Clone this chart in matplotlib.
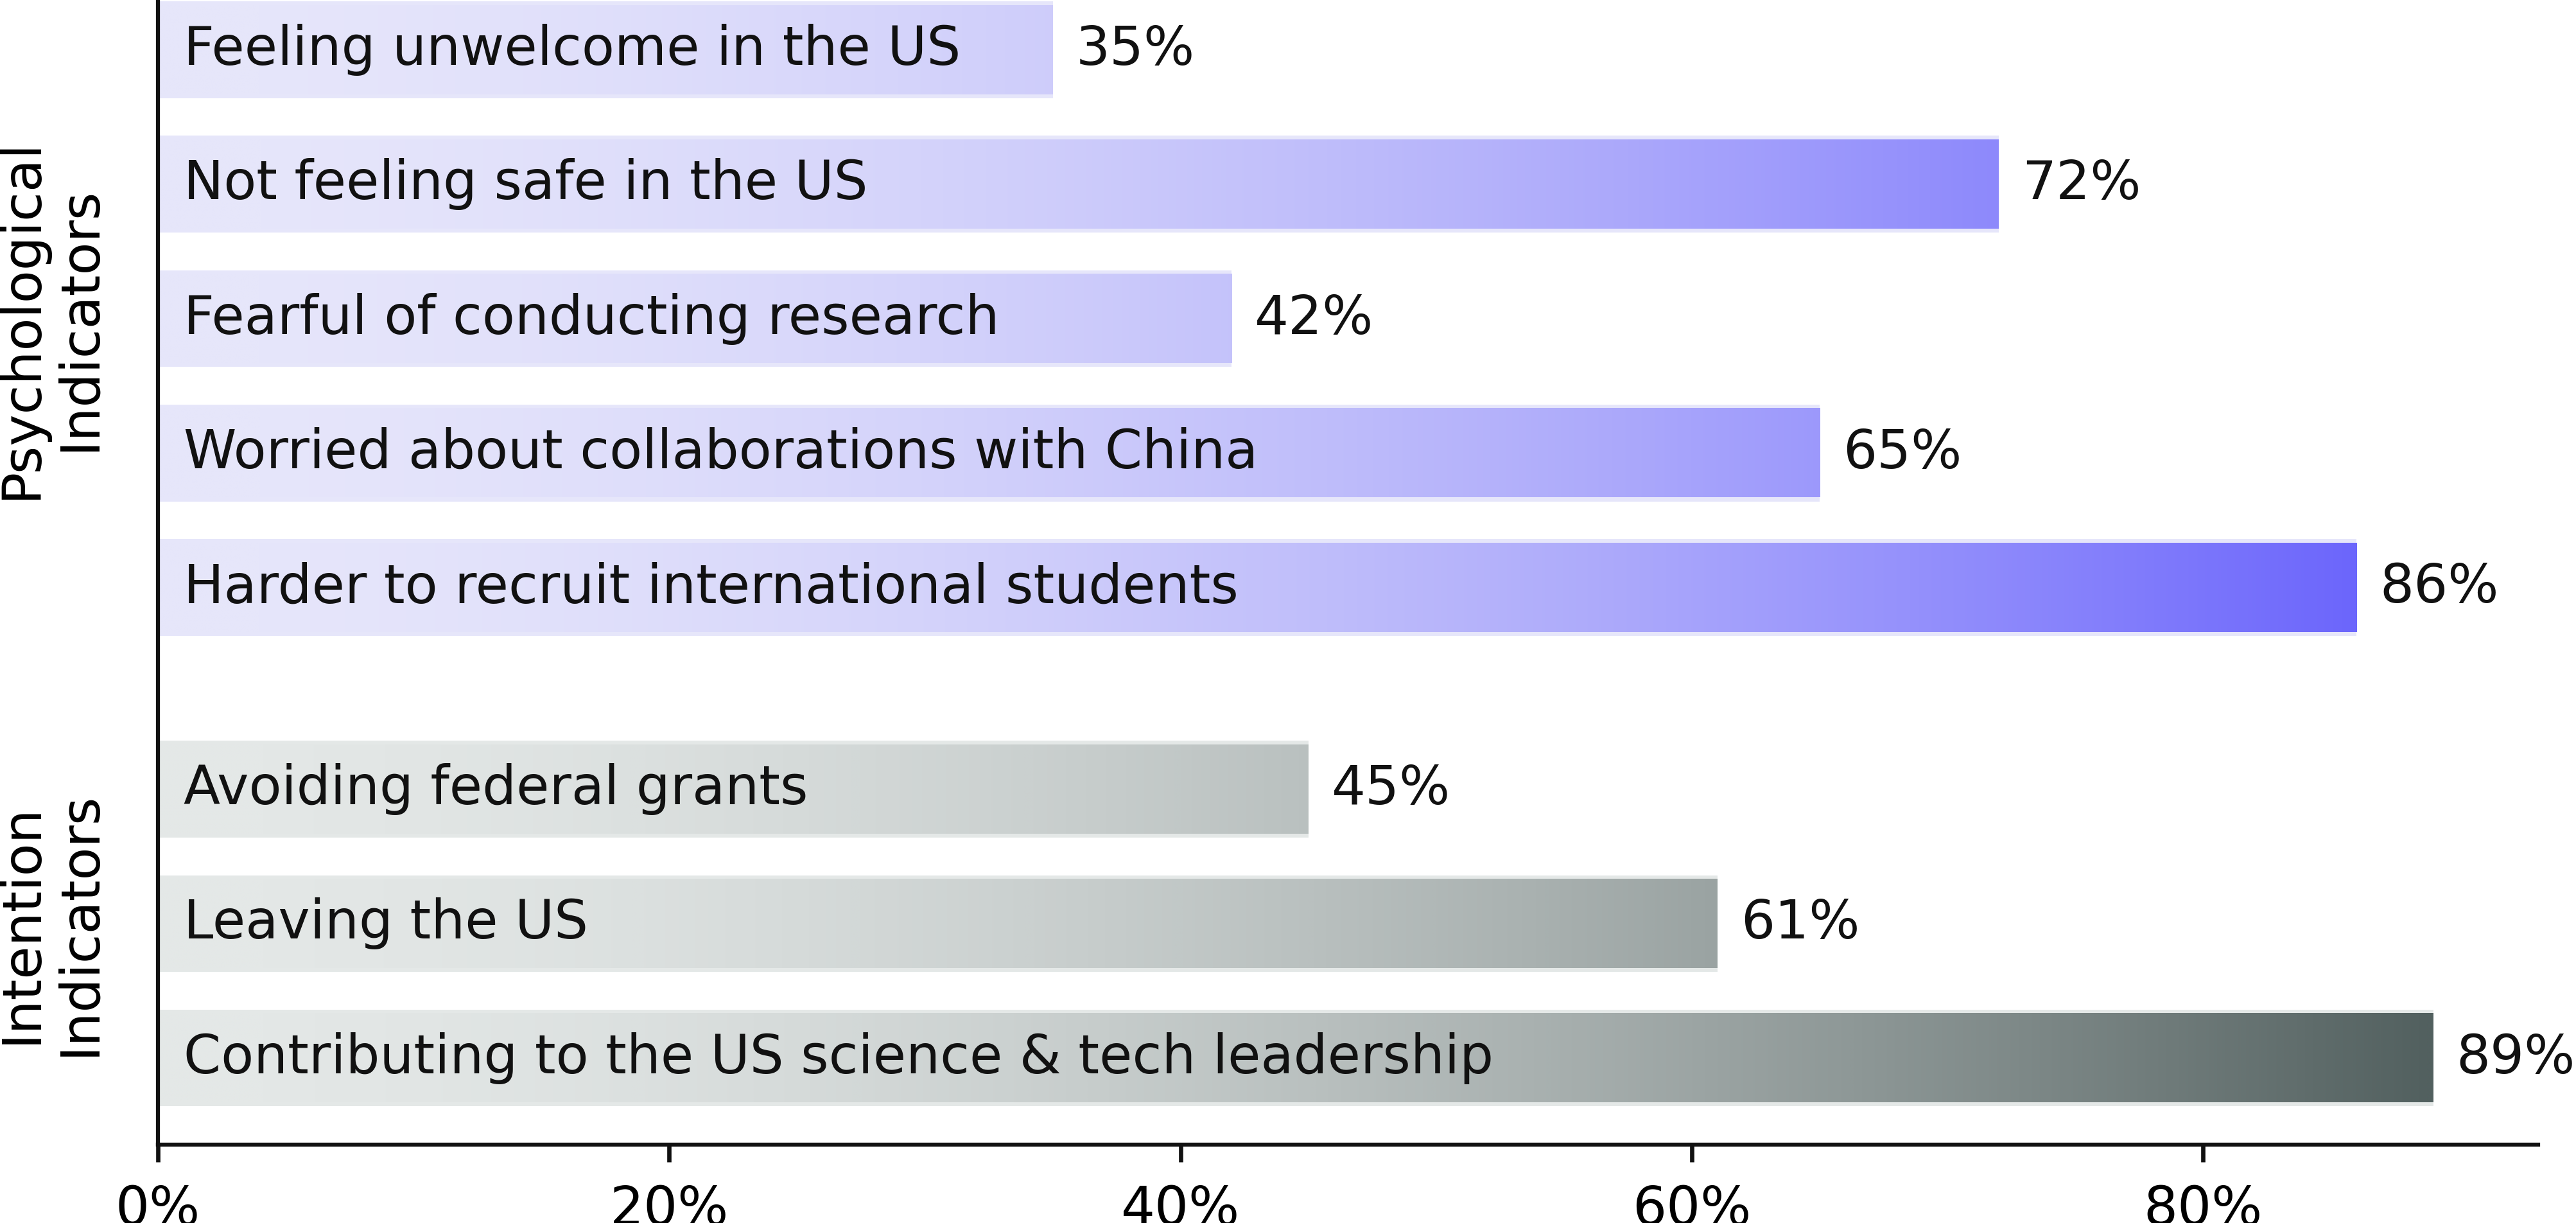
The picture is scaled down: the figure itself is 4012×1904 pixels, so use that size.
import numpy as np
import matplotlib
matplotlib.use("Agg")
import matplotlib.pyplot as plt
from matplotlib.colors import LinearSegmentedColormap, PowerNorm

# data
psych_labels = [
    "Feeling unwelcome in the US",
    "Not feeling safe in the US",
    "Fearful of conducting research",
    "Worried about collaborations with China",
    "Harder to recruit international students",
]
psych_values = [35, 72, 42, 65, 86]

intent_labels = [
    "Avoiding federal grants",
    "Leaving the US",
    "Contributing to the US science & tech leadership",
]
intent_values = [45, 61, 89]

group_names = ["Psychological\nIndicators", "Intention\nIndicators"]
xticks = [0, 20, 40, 60, 80]

psych_cmap = LinearSegmentedColormap.from_list("psych", ["#e6e6fa", "#6c66fc"])
intent_cmap = LinearSegmentedColormap.from_list("intent", ["#e4e8e7", "#52605f"])

plt.rcParams['font.family'] = ['DejaVu Sans']

fig = plt.figure(figsize=(4012 / 300, 1904 / 300), dpi=300)
ax = fig.add_axes([0.0613, 0.064, 0.924, 0.936])

bar_h = 0.72
psych_pos = np.arange(len(psych_values))
intent_pos = np.arange(len(intent_values)) + len(psych_values) + 0.5

groups = [
    (psych_labels, psych_values, psych_pos, psych_cmap),
    (intent_labels, intent_values, intent_pos, intent_cmap),
]

grad = np.linspace(0, 1, 512).reshape(1, -1)
for labels, values, pos, cmap in groups:
    norm = PowerNorm(gamma=1.8, vmin=0, vmax=max(values))
    bars = ax.barh(pos, values, height=bar_h, color=cmap(0.0), edgecolor="none", zorder=1)
    for bar, v, y, lab in zip(bars, values, pos, labels):
        xs = grad * v
        img = ax.imshow(cmap(norm(xs)), extent=[0, v, y + bar_h / 2 - 0.03, y - bar_h / 2 + 0.03],
                        aspect="auto", interpolation="bilinear", zorder=2)
        img.set_clip_path(bar)
        ax.text(1.0, y, lab, va="center", ha="left", fontsize=20, color="#111111", zorder=3)
        ax.text(v + 0.9, y, f"{v}%", va="center", ha="left", fontsize=20, color="#111111", zorder=3)

ax.set_xlim(0, 93.1)
ax.set_ylim(intent_pos[-1] + 0.645, -0.37)
ax.set_xticks(xticks)
ax.set_xticklabels([f"{t}%" for t in xticks], fontsize=20)
ax.set_yticks([])
ax.tick_params(axis="x", length=6.5, width=1.6, pad=8, color="#111111")
for s in ["top", "right"]:
    ax.spines[s].set_visible(False)
for s in ["left", "bottom"]:
    ax.spines[s].set_linewidth(1.5)
    ax.spines[s].set_color("#111111")

# group labels on the left
trans = ax.get_yaxis_transform()
ax.text(-0.045, psych_pos.mean(), group_names[0], transform=trans, rotation=90,
        ha="center", va="center", fontsize=20, multialignment="center", linespacing=1.15)
ax.text(-0.045, intent_pos.mean(), group_names[1], transform=trans, rotation=90,
        ha="center", va="center", fontsize=20, multialignment="center", linespacing=1.15)

fig.savefig("out.png", dpi=300)
